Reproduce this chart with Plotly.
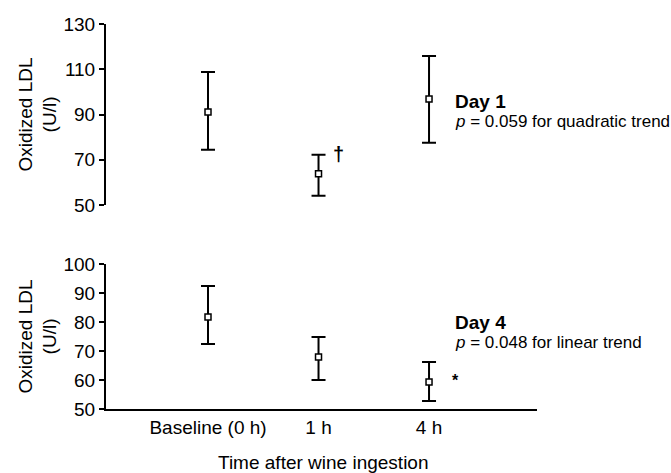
import plotly.graph_objects as go
from plotly.subplots import make_subplots

categories = ["Baseline (0 h)", "1 h", "4 h"]
# Day 1
day1_mean = [91.1, 63.8, 96.9]
day1_upper = [108.8, 72.2, 115.9]
day1_lower = [74.4, 54.1, 77.5]
# Day 4
day4_mean = [81.7, 67.9, 59.3]
day4_upper = [92.4, 74.8, 66.2]
day4_lower = [72.4, 60.0, 52.8]

top_ticks = [50, 70, 90, 110, 130]
bot_ticks = [50, 60, 70, 80, 90, 100]

FONT = "Arial, Liberation Sans, Helvetica, sans-serif"
xs = list(range(len(categories)))

fig = make_subplots(rows=2, cols=1)

def add_series(mean, up, lo, row):
    fig.add_trace(go.Scatter(
        x=xs, y=mean, mode="markers",
        marker=dict(symbol="square", size=6, color="white",
                    line=dict(color="black", width=1.5)),
        error_y=dict(type="data", symmetric=False,
                     array=[u - m for u, m in zip(up, mean)],
                     arrayminus=[m - l for m, l in zip(mean, lo)],
                     color="black", thickness=2, width=7),
        showlegend=False, cliponaxis=False, hoverinfo="skip",
    ), row=row, col=1)

add_series(day1_mean, day1_upper, day1_lower, 1)
add_series(day4_mean, day4_upper, day4_lower, 2)

W, H = 671, 473
L = 106
R = W - 537
T = 24
B = H - 409
ph = H - T - B
PW = W - L - R
top_dom = [(409 - 205) / ph, 1.0]
bot_dom = [0.0, (409 - 264) / ph]
xr = [-0.923, 2.977]

fig.update_layout(
    width=W, height=H,
    margin=dict(l=L, r=R, t=T, b=B),
    paper_bgcolor="white", plot_bgcolor="white",
    font=dict(family=FONT, size=19, color="black"),
    xaxis=dict(domain=[0, 1], range=xr, visible=False, showgrid=False, zeroline=False),
    yaxis=dict(domain=top_dom, range=[50, 130], tickvals=top_ticks,
               showline=True, linecolor="black", linewidth=2,
               ticks="outside", ticklen=5, tickwidth=2, tickcolor="black",
               showgrid=False, zeroline=False),
    xaxis2=dict(domain=[0, 1], range=xr, tickvals=xs, ticktext=categories,
                showline=True, linecolor="black", linewidth=2, ticks="",
                showgrid=False, zeroline=False),
    yaxis2=dict(domain=bot_dom, range=[50, 100], tickvals=bot_ticks,
                showline=True, linecolor="black", linewidth=2,
                ticks="outside", ticklen=5, tickwidth=2, tickcolor="black",
                showgrid=False, zeroline=False),
)

ann = []
# y-axis titles
for dom in (top_dom, bot_dom):
    ann.append(dict(text="Oxidized LDL<br>(U/l)", textangle=-90,
                    xref="paper", yref="paper",
                    x=(37 - L) / PW, y=(dom[0] + dom[1]) / 2,
                    xanchor="center", yanchor="middle", showarrow=False,
                    font=dict(size=19)))
# x-axis title
ann.append(dict(text="Time after wine ingestion", xref="paper", yref="paper",
                x=(323 - L) / PW, y=(409 - 462) / ph,
                xanchor="center", yanchor="middle", showarrow=False,
                font=dict(size=19)))
# Day 1 labels
ann.append(dict(text="<b>Day 1</b>", xref="x", yref="y", x=2.217, y=95.6,
                xanchor="left", yanchor="middle", showarrow=False,
                font=dict(size=19)))
ann.append(dict(text="<i>p</i> = 0.059 for quadratic trend", xref="x", yref="y",
                x=2.217, y=86.7, xanchor="left", yanchor="middle",
                showarrow=False, font=dict(size=17)))
ann.append(dict(text="<b>\u2020</b>", xref="x", yref="y", x=1.18, y=72.6,
                xanchor="center", yanchor="middle", showarrow=False,
                font=dict(size=20)))
# Day 4 labels
ann.append(dict(text="<b>Day 4</b>", xref="x2", yref="y2", x=2.217, y=79.7,
                xanchor="left", yanchor="middle", showarrow=False,
                font=dict(size=19)))
ann.append(dict(text="<i>p</i> = 0.048 for linear trend", xref="x2", yref="y2",
                x=2.217, y=73.1, xanchor="left", yanchor="middle",
                showarrow=False, font=dict(size=17)))
ann.append(dict(text="<b>*</b>", xref="x2", yref="y2", x=2.244, y=59.8,
                xanchor="center", yanchor="middle", showarrow=False,
                font=dict(size=16)))
fig.update_layout(annotations=ann, hovermode=False)

# remove the browser's default 8px page margin so the figure sits at the corner
fig.write_html("out.html",
               config={"displayModeBar": False},
               post_script="document.body.style.margin='0';document.body.style.overflow='hidden';")
